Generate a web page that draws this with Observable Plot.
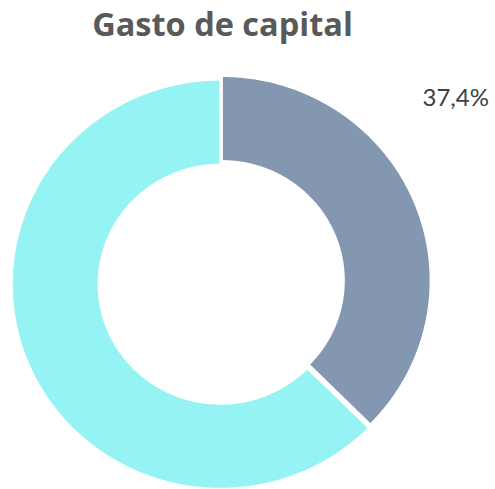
<!DOCTYPE html>
<html><head><meta charset="utf-8">
<script src="https://cdn.jsdelivr.net/npm/d3@7"></script>
<script src="https://cdn.jsdelivr.net/npm/@observablehq/plot@0.6"></script>
<style>
body{margin:0;background:#fff;}
#title{height:50px;width:445px;text-align:center;font-weight:bold;font-size:32.5px;font-family:"Open Sans",Lato,sans-serif;color:#595959;line-height:48px;white-space:nowrap;}
#chart svg{display:block;}
</style></head><body>
<div id="title">Gasto de capital</div>
<div id="chart"></div>
<script>
// ---- data ----
const categories = ["Gasto de capital", "Resto"];
const values = [37.4, 62.6];
const labels = ["37,4%", ""];
const colors = ["#8497B0", "#96F3F3"];

// ---- layout ----
const W = 495, H = 439;
const cxPx = 220, cyPx = 233.7;       // donut centre in svg pixels
const sx = 1.02;                      // horizontal px per unit
const R = 204.6, r = 119.5;           // outer / inner radius (units)
const explode = {"Gasto de capital": [1.4, 3.6]};
const labelRadius = 296, labelFrac = 0.38;

const pie = d3.pie().sort(null).value(d => d.value)(
  categories.map((c, i) => ({category: c, value: values[i], label: labels[i]}))
);

const pts = [];
const textData = [];
pie.forEach(s => {
  const [ox, oy] = explode[s.data.category] || [0, 0];
  const n = Math.max(8, Math.ceil((s.endAngle - s.startAngle) / 0.01));
  for (let k = 0; k <= n; k++) {
    const a = s.startAngle + (s.endAngle - s.startAngle) * k / n;
    pts.push({category: s.data.category, x: ox + R * Math.sin(a), y: oy + R * Math.cos(a)});
  }
  for (let k = n; k >= 0; k--) {
    const a = s.startAngle + (s.endAngle - s.startAngle) * k / n;
    pts.push({category: s.data.category, x: ox + r * Math.sin(a), y: oy + r * Math.cos(a)});
  }
  if (s.data.label) {
    const a = s.startAngle + (s.endAngle - s.startAngle) * labelFrac;
    textData.push({x: labelRadius * Math.sin(a), y: labelRadius * Math.cos(a), text: s.data.label});
  }
});

const chart = Plot.plot({
  width: W, height: H,
  margin: 0,
  x: {domain: [-cxPx / sx, (W - cxPx) / sx], axis: null},
  y: {domain: [-(H - cyPx), cyPx], axis: null},
  color: {domain: categories, range: colors},
  style: {background: "#fff", overflow: "hidden"},
  marks: [
    Plot.line(pts, {x: "x", y: "y", z: "category", fill: "category", stroke: "#fff", strokeWidth: 2, curve: "linear-closed", strokeLinejoin: "round"}),
    Plot.text(textData, {x: "x", y: "y", text: "text", fontSize: 24, fill: "#404040", fontFamily: "Lato, 'Open Sans', sans-serif", textAnchor: "middle"})
  ]
});
document.getElementById("chart").appendChild(chart);
</script>
</body></html>
